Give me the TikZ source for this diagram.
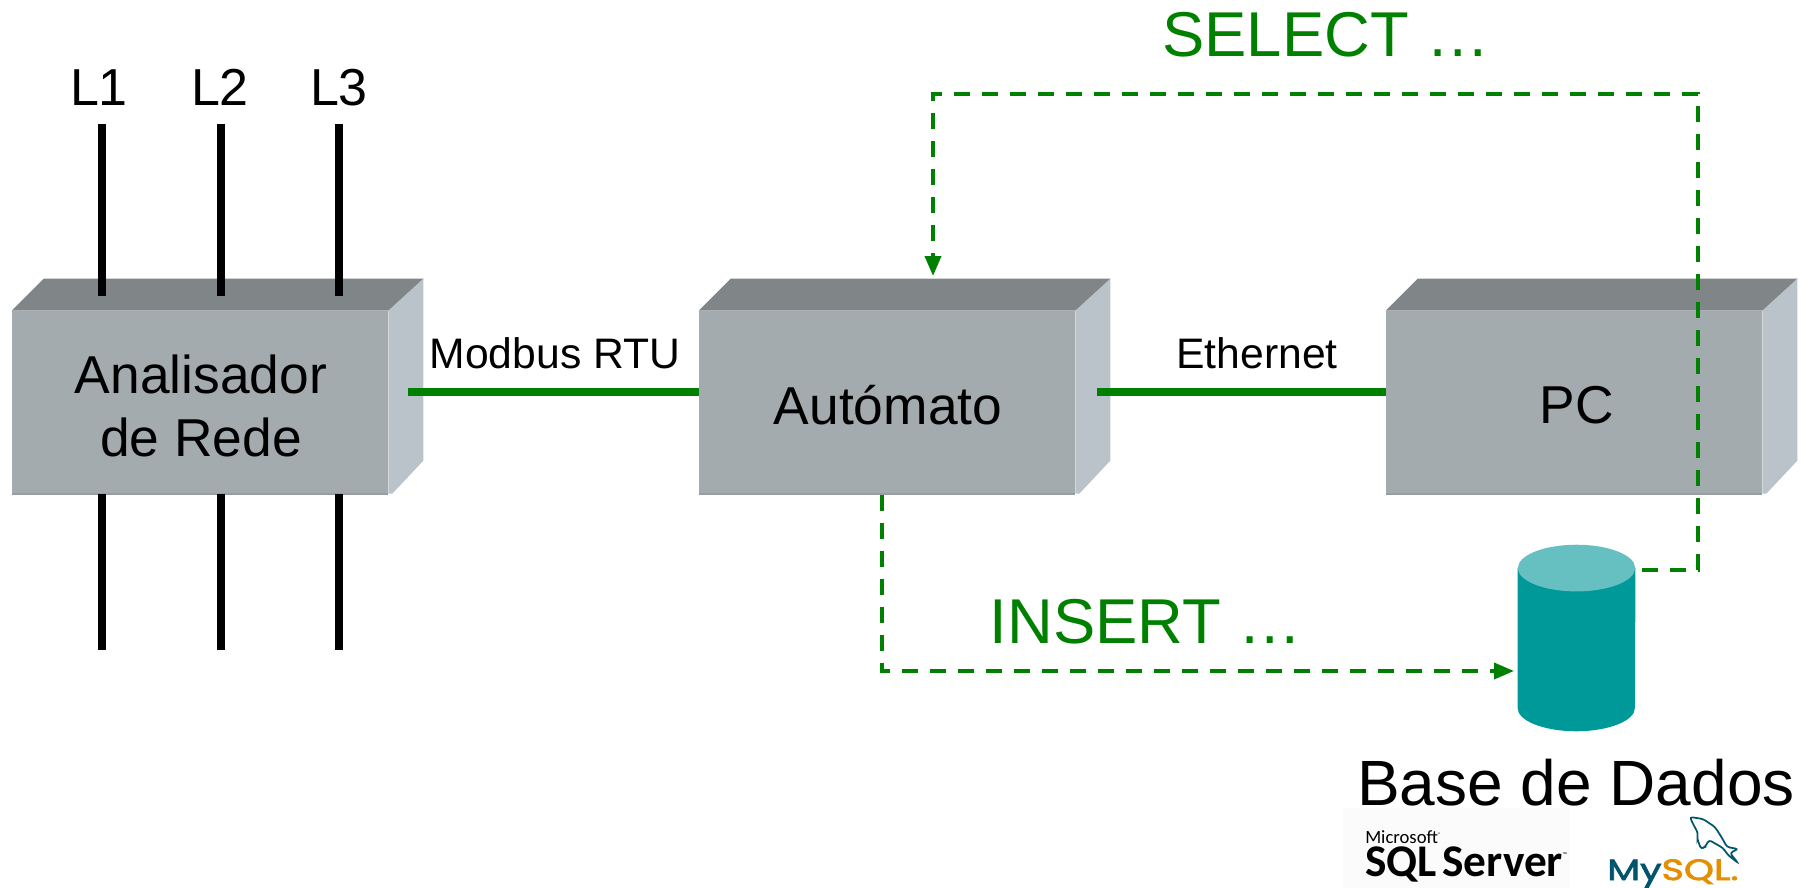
\documentclass[tikz,border=0pt]{standalone}
\usepackage{fontspec}
\setmainfont{Liberation Sans}
\newfontfamily\sqlfont{Carlito}
\newfontfamily\mysqlfont[FakeStretch=1.3,FakeBold=2.5]{Poppins}
\usepackage{xcolor}
\usetikzlibrary{arrows.meta, positioning}
\definecolor{boxfront}{HTML}{A3ABAE}
\definecolor{boxtop}{HTML}{808587}
\definecolor{boxside}{HTML}{BBC3CA}
\definecolor{boxedge}{HTML}{969EA1}
\definecolor{linkgreen}{HTML}{008000}
\definecolor{dbbody}{HTML}{009999}
\definecolor{dbtop}{HTML}{66BFC1}
\definecolor{mysqlblue}{HTML}{00546B}
\definecolor{mysqlorange}{HTML}{E48E00}

\begin{document}
\begin{tikzpicture}[x=0.75pt,y=-0.75pt,node distance=515.25pt,on grid]
    \tikzstyle{device}=[shape=rectangle,fill=boxfront,inner sep=0pt,minimum width=282pt,minimum height=137.25pt]
    \tikzstyle{devicetext}=[font=\fontsize{40}{47}\selectfont,align=center]
    \tikzstyle{phasetext}=[font=\fontsize{39}{46}\selectfont]
    \tikzstyle{phase}=[line width=6pt,black]
    \tikzstyle{buslabel}=[font=\fontsize{32}{36}\selectfont]
    \tikzstyle{bus}=[line width=5.5pt,linkgreen]
    \tikzstyle{query}=[line width=2.8pt,linkgreen,dash pattern=on 12pt off 9pt]
    \tikzstyle{querytext}=[font=\fontsize{47.5}{56}\selectfont,text=linkgreen]

    \useasboundingbox (0,0) rectangle (1816,888);

    \node[device] (A1) at (200,402.5) {};
    \node[device,right of=A1] (B1) {};
    \node[device,right of=B1] (C1) {};

    % top and side faces of the three boxes
    \foreach \dev in {A1,B1,C1} {
      \fill[boxtop] (\dev.north west) -- ++(32,-32) -- ++(380,0) -- ++(-35,32) -- cycle;
      \fill[boxside] (\dev.north east) -- ++(35,-32) -- ++(0,182) -- ++(-31,33) -- ++(-4,0) -- cycle;
      \draw[boxedge,line width=1.5pt] (\dev.south west) -- (\dev.south east);
    }

    \node[devicetext] (A1text) at (201,406) {Analisador\\de Rede};
    \node[devicetext] (B1text) at (888,405) {Autómato};
    \node[devicetext] (C1text) at (1577,405) {PC};

    \foreach \n/\x/\t in {1/102/99,2/221/220,3/339/339} {
      \node[phasetext,anchor=base] (L\n) at (\t,106) {L\n};
      \coordinate (T\n) at (\x,124);
      \coordinate (S\n) at (\x,296);
      \coordinate (E\n) at (\x,650);
      \draw[phase] (T\n) -- (S\n);
      \draw[phase] (A1.south -| T\n) -- (E\n);
    }

    \coordinate (A1out) at (408,392);
    \coordinate (B1out) at (1097,392);
    \path[bus,draw]
    (A1out) -- (B1.west |- A1out)
    (B1out) -- (C1.west |- B1out)
    ;
    \node[buslabel] (modbus) at (555,353) {Modbus RTU};
    \node[buslabel] (ethernet) at (1257,353) {Ethernet};

    % database drum
    \node[inner sep=0pt,minimum width=88pt,minimum height=139.5pt] (DB) at (1576.5,638) {};
    \fill[dbbody] ([yshift=-17.5pt]DB.north west) -- ([yshift=17.5pt]DB.south west)
      arc[start angle=180,end angle=360,x radius=44pt,y radius=17.5pt] -- ([yshift=-17.5pt]DB.north east) -- cycle;
    \fill[dbtop] ([yshift=-17.5pt]DB.north) ellipse [x radius=44pt,y radius=17.5pt];

    \coordinate (B1down) at (882,495);
    \coordinate (B1corner) at (882,671);
    \coordinate (DBin) at (1514,671);
    \coordinate (DBout) at (1642,570);
    \coordinate (DBcorner) at (1698,570);
    \coordinate (topright) at (1698,94);
    \coordinate (topleft) at (933,94);
    \coordinate (B1in) at (933,276);
    \draw[query,-{Triangle[length=15pt,width=12pt]}] (B1down) -- (B1corner) -- (DBin);
    \draw[query,-{Triangle[length=15pt,width=12pt]}] (DBout) -- (DBcorner) -- (topright) -- (topleft) -- (B1in);

    \node[querytext] (select) at (1326,35) {SELECT …};
    \node[querytext] (insert) at (1146,622) {INSERT …};
    \node[font=\fontsize{48}{56}\selectfont] (dbname) at (1576,783) {Base de Dados};

    % logos under the database
    \fill[black!1.5] (1343,808) rectangle (1570,888);
    \node[anchor=base west,inner sep=0pt,align=left,font=\sqlfont\bfseries\fontsize{34}{24.75}\selectfont] (sqlserver) at (1365,876)
      {{\mdseries\fontsize{14}{14}\selectfont Microsoft\raisebox{5pt}{\fontsize{4}{4}\selectfont®}}\\SQL\hspace{4pt}Server\raisebox{15pt}{\fontsize{4}{4}\selectfont™}};
    \node[anchor=base west,inner sep=0pt,font=\mysqlfont\fontsize{22}{26}\selectfont,text=mysqlblue] (mysql) at (1607,880) {My\textcolor{mysqlorange}{SQL.}};
    \draw[mysqlblue,line width=1.3pt,rounded corners=2pt] (1690,817) -- (1703,819) -- (1715,827) -- (1722,838) -- (1727,847) -- (1738,849) -- (1730,853) -- (1738,863) -- (1728,855) -- (1723,848) -- (1709,840) -- (1705,847) -- (1701,849) -- (1697,838) -- (1698,833) -- (1693,824) -- cycle;
\end{tikzpicture}
\end{document}
